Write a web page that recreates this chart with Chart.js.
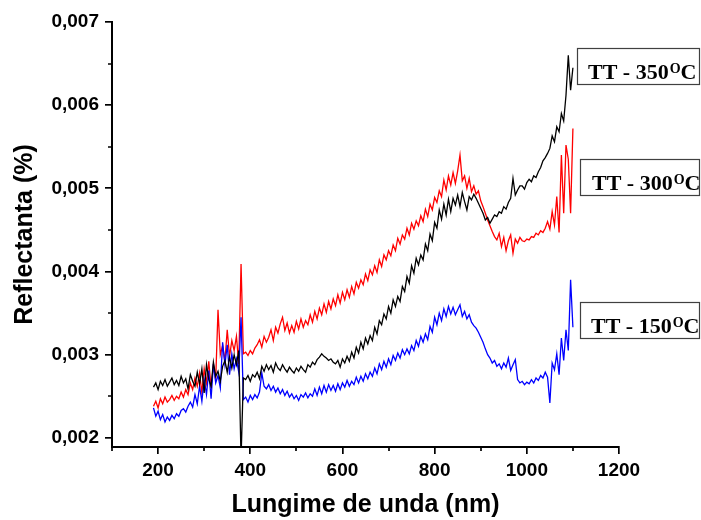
<!DOCTYPE html>
<html>
<head>
<meta charset="utf-8">
<script src="https://cdn.jsdelivr.net/npm/chart.js@4.4.1/dist/chart.umd.min.js"></script>
<style>
    html, body { margin: 0; padding: 0; background: #ffffff; }
    #wrap { width: 701px; height: 520px; }
</style>
</head>
<body>
<div id="wrap"><canvas id="reflChart" width="701" height="520"></canvas></div>
<script>
//-----------------------------------------------------------------------------
// data (wavelength in nm, reflectance in %)
//-----------------------------------------------------------------------------
const wavelengths = [
    190, 195, 200, 205, 210, 215, 220, 225, 230, 235,
    240, 245, 250, 255, 260, 265, 270, 275, 280, 285,
    290, 295, 300, 305, 310, 315, 320, 325, 330, 335,
    340, 345, 350, 355, 360, 365, 370, 375, 380, 385,
    390, 395, 400, 405, 410, 415, 420, 425, 430, 435,
    440, 445, 450, 455, 460, 465, 470, 475, 480, 485,
    490, 495, 500, 505, 510, 515, 520, 525, 530, 535,
    540, 545, 550, 555, 560, 565, 570, 575, 580, 585,
    590, 595, 600, 605, 610, 615, 620, 625, 630, 635,
    640, 645, 650, 655, 660, 665, 670, 675, 680, 685,
    690, 695, 700, 705, 710, 715, 720, 725, 730, 735,
    740, 745, 750, 755, 760, 765, 770, 775, 780, 785,
    790, 795, 800, 805, 810, 815, 820, 825, 830, 835,
    840, 845, 850, 855, 860, 865, 870, 875, 880, 885,
    890, 895, 900, 905, 910, 915, 920, 925, 930, 935,
    940, 945, 950, 955, 960, 965, 970, 975, 980, 985,
    990, 995, 1000, 1005, 1010, 1015, 1020, 1025, 1030, 1035,
    1040, 1045, 1050, 1055, 1060, 1065, 1070, 1075, 1080, 1085,
    1090, 1095, 1100
];

// TT - 350 oC (black)
const refl350 = [
    0.00261, 0.00266, 0.00258, 0.00268, 0.00263, 0.00270, 0.00262, 0.00267, 0.00272, 0.00264,
    0.00269, 0.00263, 0.00274, 0.00266, 0.00271, 0.00259, 0.00276, 0.00268, 0.00262, 0.00279,
    0.00265, 0.00283, 0.00254, 0.00288, 0.00270, 0.00262, 0.00291, 0.00274, 0.00280, 0.00268,
    0.00286, 0.00293, 0.00279, 0.00297, 0.00284, 0.00300, 0.00288, 0.00305, 0.00175, 0.00272,
    0.00270, 0.00275, 0.00268, 0.00276, 0.00273, 0.00279, 0.00271, 0.00286, 0.00280, 0.00288,
    0.00282, 0.00287, 0.00279, 0.00290, 0.00284, 0.00281, 0.00288, 0.00283, 0.00279, 0.00285,
    0.00281, 0.00278, 0.00284, 0.00280, 0.00286, 0.00282, 0.00279, 0.00288, 0.00285, 0.00291,
    0.00288, 0.00294, 0.00297, 0.00301, 0.00298, 0.00296, 0.00293, 0.00295, 0.00291, 0.00289,
    0.00293, 0.00285, 0.00295, 0.00290, 0.00298, 0.00292, 0.00303, 0.00296, 0.00309, 0.00302,
    0.00315, 0.00307, 0.00320, 0.00313, 0.00323, 0.00317, 0.00333, 0.00325, 0.00341, 0.00336,
    0.00349, 0.00343, 0.00358, 0.00350, 0.00366, 0.00358, 0.00370, 0.00364, 0.00382, 0.00376,
    0.00394, 0.00386, 0.00407, 0.00398, 0.00416, 0.00408, 0.00420, 0.00414, 0.00433, 0.00425,
    0.00445, 0.00437, 0.00459, 0.00452, 0.00474, 0.00463, 0.00481, 0.00468, 0.00487, 0.00472,
    0.00488, 0.00480, 0.00492, 0.00478, 0.00495, 0.00484, 0.00474, 0.00490, 0.00486, 0.00493,
    0.00488, 0.00482, 0.00476, 0.00470, 0.00462, 0.00465, 0.00458, 0.00463, 0.00468, 0.00466,
    0.00472, 0.00470, 0.00478, 0.00475, 0.00483, 0.00488, 0.00512, 0.00492, 0.00498, 0.00503,
    0.00503, 0.00499, 0.00507, 0.00511, 0.00508, 0.00515, 0.00513, 0.00520, 0.00525, 0.00533,
    0.00537, 0.00542, 0.00548, 0.00563, 0.00556, 0.00574, 0.00568, 0.00590, 0.00581, 0.00612,
    0.00660, 0.00618, 0.00645
];

// TT - 300 oC (red)
const refl300 = [
    0.00238, 0.00244, 0.00236, 0.00247, 0.00241, 0.00249, 0.00243, 0.00246, 0.00251, 0.00245,
    0.00250, 0.00247, 0.00255, 0.00249, 0.00258, 0.00252, 0.00266, 0.00258, 0.00272, 0.00262,
    0.00278, 0.00254, 0.00283, 0.00266, 0.00292, 0.00260, 0.00287, 0.00270, 0.00354, 0.00300,
    0.00311, 0.00292, 0.00330, 0.00298, 0.00317, 0.00305, 0.00322, 0.00289, 0.00409, 0.00301,
    0.00303, 0.00299, 0.00305, 0.00301, 0.00308, 0.00312, 0.00318, 0.00309, 0.00322, 0.00315,
    0.00321, 0.00330, 0.00317, 0.00333, 0.00326, 0.00337, 0.00345, 0.00329, 0.00338, 0.00326,
    0.00335, 0.00327, 0.00340, 0.00331, 0.00343, 0.00333, 0.00341, 0.00336, 0.00348, 0.00339,
    0.00352, 0.00343, 0.00356, 0.00348, 0.00361, 0.00351, 0.00364, 0.00355, 0.00367, 0.00359,
    0.00372, 0.00362, 0.00375, 0.00366, 0.00378, 0.00369, 0.00382, 0.00373, 0.00387, 0.00380,
    0.00390, 0.00384, 0.00397, 0.00389, 0.00402, 0.00396, 0.00407, 0.00399, 0.00414, 0.00406,
    0.00420, 0.00414, 0.00425, 0.00419, 0.00432, 0.00425, 0.00440, 0.00433, 0.00444, 0.00439,
    0.00452, 0.00444, 0.00458, 0.00451, 0.00461, 0.00455, 0.00467, 0.00460, 0.00475, 0.00466,
    0.00481, 0.00474, 0.00489, 0.00483, 0.00497, 0.00490, 0.00510, 0.00498, 0.00515, 0.00504,
    0.00519, 0.00506, 0.00521, 0.00540, 0.00509, 0.00515, 0.00500, 0.00512, 0.00496, 0.00503,
    0.00493, 0.00497, 0.00485, 0.00478, 0.00470, 0.00462, 0.00455, 0.00448, 0.00442, 0.00438,
    0.00446, 0.00430, 0.00441, 0.00425, 0.00437, 0.00444, 0.00422, 0.00439, 0.00434, 0.00441,
    0.00437, 0.00436, 0.00439, 0.00438, 0.00442, 0.00441, 0.00446, 0.00444, 0.00449, 0.00447,
    0.00452, 0.00460, 0.00451, 0.00472, 0.00456, 0.00490, 0.00447, 0.00540, 0.00470, 0.00552,
    0.00535, 0.00470, 0.00572
];

// TT - 150 oC (blue)
const refl150 = [
    0.00236, 0.00226, 0.00232, 0.00222, 0.00228, 0.00219, 0.00225, 0.00221, 0.00227, 0.00223,
    0.00229, 0.00226, 0.00233, 0.00235, 0.00231, 0.00238, 0.00243, 0.00237, 0.00252, 0.00241,
    0.00262, 0.00244, 0.00270, 0.00252, 0.00281, 0.00247, 0.00289, 0.00266, 0.00275, 0.00260,
    0.00315, 0.00288, 0.00312, 0.00276, 0.00301, 0.00283, 0.00295, 0.00279, 0.00345, 0.00246,
    0.00249, 0.00243, 0.00251, 0.00246, 0.00252, 0.00248, 0.00255, 0.00278, 0.00262, 0.00259,
    0.00264, 0.00257, 0.00262, 0.00255, 0.00260, 0.00253, 0.00258, 0.00251, 0.00256, 0.00249,
    0.00253, 0.00247, 0.00251, 0.00245, 0.00252, 0.00249, 0.00254, 0.00248, 0.00253, 0.00250,
    0.00259, 0.00251, 0.00261, 0.00253, 0.00263, 0.00255, 0.00264, 0.00257, 0.00263, 0.00256,
    0.00265, 0.00258, 0.00266, 0.00261, 0.00269, 0.00262, 0.00268, 0.00264, 0.00273, 0.00266,
    0.00274, 0.00268, 0.00277, 0.00271, 0.00279, 0.00274, 0.00284, 0.00277, 0.00289, 0.00282,
    0.00292, 0.00285, 0.00295, 0.00288, 0.00299, 0.00293, 0.00302, 0.00296, 0.00306, 0.00300,
    0.00307, 0.00301, 0.00311, 0.00305, 0.00317, 0.00310, 0.00322, 0.00315, 0.00325, 0.00318,
    0.00334, 0.00327, 0.00345, 0.00336, 0.00350, 0.00341, 0.00355, 0.00346, 0.00358, 0.00349,
    0.00357, 0.00348, 0.00354, 0.00360, 0.00346, 0.00352, 0.00343, 0.00348, 0.00339, 0.00335,
    0.00332, 0.00327, 0.00321, 0.00315, 0.00307, 0.00300, 0.00296, 0.00290, 0.00293, 0.00286,
    0.00289, 0.00283, 0.00290, 0.00285, 0.00296, 0.00281, 0.00288, 0.00294, 0.00270, 0.00266,
    0.00268, 0.00264, 0.00267, 0.00265, 0.00270, 0.00266, 0.00272, 0.00269, 0.00275, 0.00272,
    0.00279, 0.00273, 0.00242, 0.00290, 0.00282, 0.00301, 0.00276, 0.00320, 0.00293, 0.00330,
    0.00305, 0.00390, 0.00333
];

const seriesLabels = ["TT - 350", "TT - 300", "TT - 150"];

// unlabeled (minor) tick values on both axes
const xMinorTicks = [100, 300, 500, 700, 900, 1100];
const yMinorTicks = [0.0025, 0.0035, 0.0045, 0.0055, 0.0065];

//-----------------------------------------------------------------------------
// pair the wavelengths with one reflectance series
//-----------------------------------------------------------------------------
function toPoints(values){
    return values.map((v, i) => ({x: wavelengths[i], y: v}));
}

//-----------------------------------------------------------------------------
// short minor ticks, drawn outside the axes like the major ones
//-----------------------------------------------------------------------------
const minorTicks = {
    id: "minorTicks",
    afterDraw(chart){
        const ctx = chart.ctx;
        const xs = chart.scales.x;
        const ys = chart.scales.y;
        ctx.save();
        ctx.strokeStyle = "#000";
        ctx.lineWidth = 1.7;
        ctx.beginPath();
        xMinorTicks.forEach(v => {
            const px = Math.round(xs.getPixelForValue(v));
            ctx.moveTo(px, ys.bottom);
            ctx.lineTo(px, ys.bottom + 4);
        });
        yMinorTicks.forEach(v => {
            const py = Math.round(ys.getPixelForValue(v));
            ctx.moveTo(xs.left - 4, py);
            ctx.lineTo(xs.left, py);
        });
        ctx.stroke();
        ctx.restore();
    }
};

//-----------------------------------------------------------------------------
// the boxed labels on the right hand side of each curve
//-----------------------------------------------------------------------------
const curveLabels = {
    id: "curveLabels",
    afterDraw(chart){
        const ctx = chart.ctx;
        const boxes = [
            {x: 577, y: 48,  textX: 588, base: 79},
            {x: 580, y: 159, textX: 592, base: 190},
            {x: 580, y: 302, textX: 591, base: 333}
        ];
        ctx.save();
        ctx.textAlign = "left";
        ctx.textBaseline = "alphabetic";
        boxes.forEach((b, i) => {
            ctx.strokeStyle = "#404040";
            ctx.lineWidth = 1.2;
            ctx.strokeRect(b.x + 0.5, b.y + 0.5, 699 - b.x, 36);

            ctx.fillStyle = "#000";
            ctx.font = "bold 22px 'Liberation Serif'";
            ctx.fillText(seriesLabels[i], b.textX, b.base);
            let x = b.textX + ctx.measureText(seriesLabels[i]).width + 1;
            // superscript degree "O"
            ctx.font = "bold 14px 'Liberation Serif'";
            ctx.fillText("O", x, b.base - 6);
            x += ctx.measureText("O").width;
            ctx.font = "bold 22px 'Liberation Serif'";
            ctx.fillText("C", x, b.base);
        });
        ctx.restore();
    }
};

//-----------------------------------------------------------------------------
// build the chart
//-----------------------------------------------------------------------------
function drawChart(){
    const ctx = document.getElementById("reflChart").getContext("2d");
    const tickFont = {family: "'Liberation Sans', Arial, sans-serif", size: 19, weight: "bold"};
    const titleFont = {family: "'Liberation Sans', Arial, sans-serif", size: 25, weight: "bold"};

    new Chart(ctx, {
        type: "line",
        data: {
            datasets: [
                {label: seriesLabels[0], data: toPoints(refl350), borderColor: "#000000"},
                {label: seriesLabels[2], data: toPoints(refl150), borderColor: "#0000ff"},
                {label: seriesLabels[1], data: toPoints(refl300), borderColor: "#ff0000"}
            ].map(ds => ({...ds, borderWidth: 1.3, pointRadius: 0, tension: 0, fill: false}))
        },
        options: {
            responsive: false,
            animation: false,
            events: [],
            layout: {
                padding: {left: 0, top: 22, right: 82, bottom: 0}
            },
            plugins: {
                legend: {display: false},
                tooltip: {enabled: false}
            },
            scales: {
                x: {
                    type: "linear",
                    min: 100,
                    max: 1200,
                    afterFit: scale => { scale.height = 73; },
                    border: {display: true, color: "#000", width: 2},
                    grid: {drawOnChartArea: false, drawTicks: true, tickLength: 7, color: "#000", lineWidth: 1.7},
                    ticks: {
                        stepSize: 200,
                        includeBounds: false,
                        maxRotation: 0,
                        autoSkip: false,
                        padding: 5,
                        color: "#000",
                        font: tickFont,
                        callback: value => String(value)
                    },
                    title: {
                        display: true,
                        text: "Lungime de unda (nm)",
                        color: "#000",
                        font: titleFont,
                        padding: {top: 0, bottom: 0}
                    }
                },
                y: {
                    type: "linear",
                    min: 0.00189,
                    max: 0.007,
                    afterFit: scale => { scale.width = 112; },
                    border: {display: true, color: "#000", width: 2},
                    grid: {drawOnChartArea: false, drawTicks: true, tickLength: 7, color: "#000", lineWidth: 1.7},
                    ticks: {
                        stepSize: 0.001,
                        includeBounds: false,
                        autoSkip: false,
                        padding: 6,
                        color: "#000",
                        font: tickFont,
                        callback: value => value.toFixed(3).replace(".", ",")
                    },
                    title: {
                        display: true,
                        text: "Reflectanta (%)",
                        color: "#000",
                        font: titleFont,
                        padding: {top: 10, bottom: 0}
                    }
                }
            }
        },
        plugins: [minorTicks, curveLabels]
    });
}

drawChart();
</script>
</body>
</html>
